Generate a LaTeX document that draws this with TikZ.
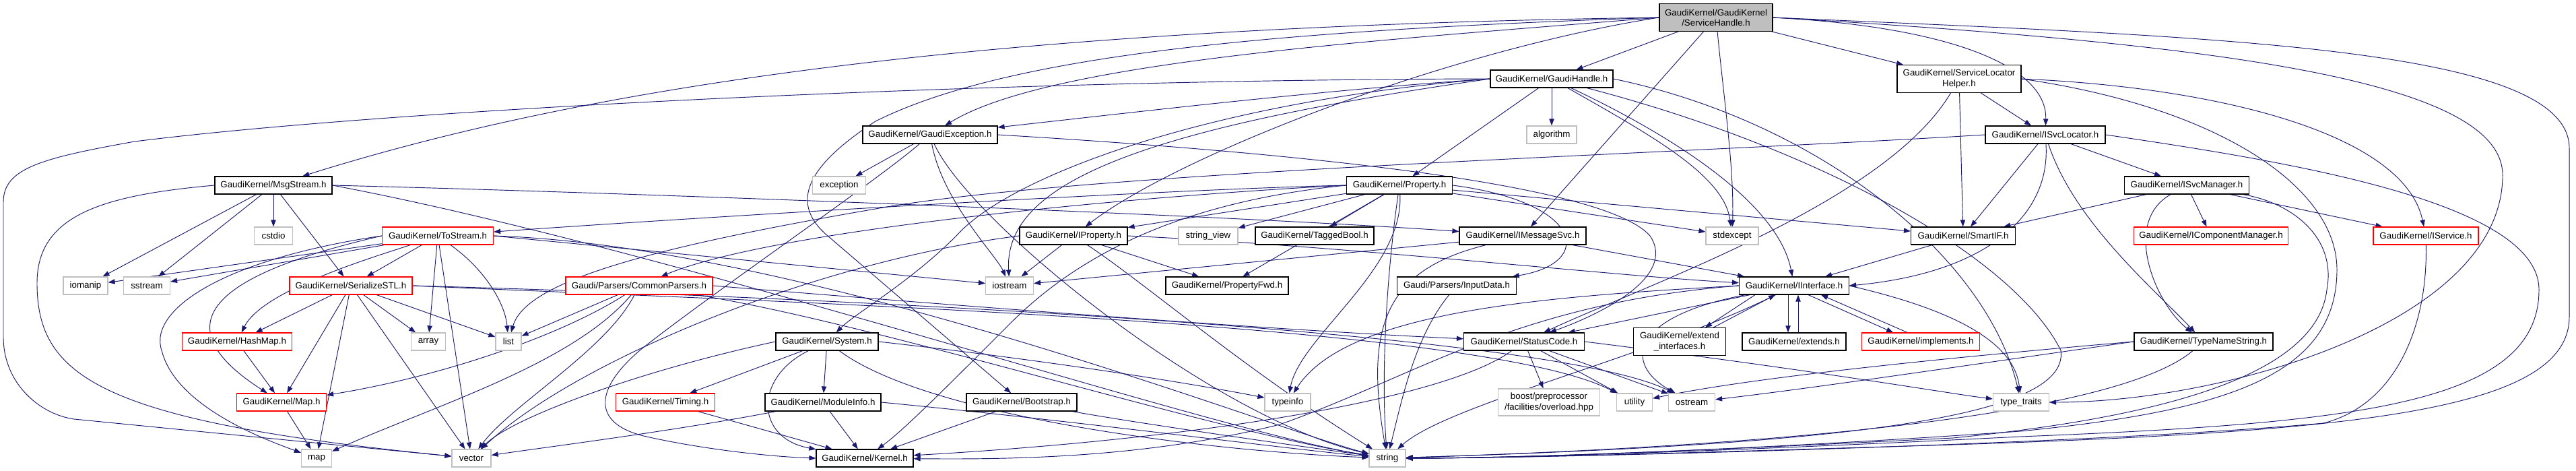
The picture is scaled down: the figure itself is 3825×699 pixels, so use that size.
\documentclass[tikz,border=0pt]{standalone}
\usepackage{fontspec}
\setmainfont{Liberation Sans}
\usetikzlibrary{arrows.meta,calc}
\definecolor{edgc}{RGB}{25,25,112}
\definecolor{gryc}{RGB}{191,191,191}
\newcommand\dxf{\fontsize{10}{11.5}\selectfont}
\pgfdeclarelayer{bglayer}
\pgfsetlayers{bglayer,main}
\begin{document}
\begin{tikzpicture}[x=0.75pt,y=-0.75pt,
  nb/.style={rectangle,inner sep=0pt,minimum height=19.5pt,font=\dxf,align=center,fill=white},
  bk/.style={nb,draw=black,line width=0.9pt},
  gy/.style={nb,draw=gryc,line width=0.9pt},
  rd/.style={nb,draw=red,line width=0.9pt},
  wd/.style={minimum width=#1*0.75pt},
  tall/.style={minimum height=30.5pt},
  edg/.style={draw=edgc,line width=0.7pt,-{Triangle[length=7.5pt,width=5.5pt]}}]
\useasboundingbox (0,0) rectangle (3825,699);

% ---- nodes ----
\node[bk,wd=168,tall,fill=gryc] (SH) at (2548,26) {GaudiKernel/GaudiKernel\\/ServiceHandle.h};
\node[bk,wd=182] (GH) at (2304,117) {GaudiKernel/GaudiHandle.h};
\node[bk,wd=184,tall] (SLH) at (2909,117) {GaudiKernel/ServiceLocator\\Helper.h};
\node[bk,wd=200] (GE) at (1381,200) {GaudiKernel/GaudiException.h};
\node[gy,wd=74] (ALG) at (2304,200) {algorithm};
\node[bk,wd=178] (ISL) at (3037,200) {GaudiKernel/ISvcLocator.h};
\node[bk,wd=174] (MS) at (406,275) {GaudiKernel/MsgStream.h};
\node[gy,wd=79] (EXC) at (1246,275) {exception};
\node[bk,wd=157] (PROP) at (2078,275) {GaudiKernel/Property.h};
\node[bk,wd=185] (ISM) at (3247,275) {GaudiKernel/ISvcManager.h};
\node[gy,wd=57] (CSTDIO) at (406,350) {cstdio};
\node[rd,wd=165] (TOS) at (650,350) {GaudiKernel/ToStream.h};
\node[bk,wd=160] (IPROP) at (1594,350) {GaudiKernel/IProperty.h};
\node[gy,wd=88] (SV) at (1794,350) {string\_view};
\node[bk,wd=176] (TB) at (1952,350) {GaudiKernel/TaggedBool.h};
\node[bk,wd=188] (IMS) at (2261,350) {GaudiKernel/IMessageSvc.h};
\node[gy,wd=78] (STDEXC) at (2572,350) {stdexcept};
\node[bk,wd=155] (SMART) at (2915,350) {GaudiKernel/SmartIF.h};
\node[rd,wd=229] (ICM) at (3283,350) {GaudiKernel/IComponentManager.h};
\node[rd,wd=156] (ISVC) at (3602,350) {GaudiKernel/IService.h};
\node[gy,wd=66] (IOMANIP) at (127,424) {iomanip};
\node[gy,wd=69] (SSTREAM) at (218,424) {sstream};
\node[rd,wd=182] (SER) at (521,424) {GaudiKernel/SerializeSTL.h};
\node[rd,wd=218] (CP) at (949,424) {Gaudi/Parsers/CommonParsers.h};
\node[gy,wd=71] (IOSTREAM) at (1499,424) {iostream};
\node[bk,wd=182] (PFWD) at (1822,424) {GaudiKernel/PropertyFwd.h};
\node[bk,wd=177] (INPUT) at (2163,424) {Gaudi/Parsers/InputData.h};
\node[bk,wd=163] (II) at (2664,424) {GaudiKernel/IInterface.h};
\node[rd,wd=163] (HASH) at (352,507) {GaudiKernel/HashMap.h};
\node[gy,wd=51] (ARRAY) at (636,507) {array};
\node[gy,wd=38] (LIST) at (755,507) {list};
\node[bk,wd=152] (SYS) at (1228,507) {GaudiKernel/System.h};
\node[bk,wd=179] (SC) at (2263,507) {GaudiKernel/StatusCode.h};
\node[bk,wd=137,tall] (EXTI) at (2494,507) {GaudiKernel/extend\\\_interfaces.h};
\node[bk,wd=154] (EXTS) at (2664,507) {GaudiKernel/extends.h};
\node[rd,wd=175] (IMPL) at (2852,507) {GaudiKernel/implements.h};
\node[bk,wd=206] (TNS) at (3272,507) {GaudiKernel/TypeNameString.h};
\node[rd,wd=133] (MAP) at (418,597) {GaudiKernel/Map.h};
\node[rd,wd=147] (TIM) at (988,597) {GaudiKernel/Timing.h};
\node[bk,wd=172] (MI) at (1222,597) {GaudiKernel/ModuleInfo.h};
\node[bk,wd=164] (BOOT) at (1517,597) {GaudiKernel/Bootstrap.h};
\node[gy,wd=68] (TYPEINFO) at (1912,597) {typeinfo};
\node[gy,wd=151,minimum height=30pt] (BOOST) at (2300,597) {boost/preprocessor\\/facilities/overload.hpp};
\node[gy,wd=53] (UTIL) at (2427,597) {utility};
\node[gy,wd=69] (OSTREAM) at (2512,597) {ostream};
\node[gy,wd=83] (TT) at (3001,597) {type\_traits};
\node[gy,wd=45] (MAPS) at (470,680) {map};
\node[gy,wd=58] (VEC) at (700,680) {vector};
\node[bk,wd=144] (KER) at (1284,680) {GaudiKernel/Kernel.h};
\node[gy,wd=54] (STR) at (2060,680) {string};

% ---- edges ----
\begin{pgfonlayer}{bglayer}
\fill[white] (0,0) rectangle (3825,699);
% ServiceHandle
\draw[edg] (SH) -- (GH);
\draw[edg] (SH.west) .. controls (2050,60) and (1560,90) .. (GE);
\draw[edg] (SH.west) .. controls (1500,40) and (900,120) .. (MS);
\draw[edg] (SH.west) .. controls (1900,45) and (1500,80) .. (1300,180) .. controls (1200,245) and (1170,300) .. (1229,350) -- (BOOT);
\draw[edg] (SH.west) .. controls (2150,75) and (1750,230) .. (IPROP);
\draw[edg] (SH) -- (IMS);
\draw[edg] (SH) .. controls (2560,150) and (2575,250) .. (STDEXC);
\draw[edg] (SH) -- (SLH);
\draw[edg] (SH.east) .. controls (2900,40) and (3040,100) .. (ISL);
\draw[edg] (SH.east) .. controls (3300,55) and (3815,70) .. (3815,220) -- (3815,470) .. controls (3815,610) and (3500,640) .. (2900,660) .. controls (2500,672) and (2250,680) .. (STR);
\draw[edg] (SH.east) .. controls (3300,65) and (3716,120) .. (3716,260) .. controls (3716,480) and (3300,597) .. (TT);
% GaudiHandle
\draw[edg] (GH) -- (PROP);
\draw[edg] (GH) -- (ALG);
\draw[edg] (GH.west) .. controls (1950,135) and (1700,165) .. (GE);
\draw[edg] (GH.west) .. controls (1500,118) and (600,160) .. (200,210) .. controls (60,235) and (5,250) .. (5,300) -- (5,500) .. controls (5,570) and (60,615) .. (110,622) -- (VEC);
\draw[edg] (GH.west) .. controls (1800,150) and (1500,260) .. (1420,350) .. controls (1350,420) and (1270,465) .. (SYS);
\draw[edg] (GH.west) .. controls (1700,190) and (1490,270) .. (IOSTREAM);
\draw[edg] (GH) .. controls (2450,200) and (2560,260) .. (STDEXC);
\draw[edg] (GH) .. controls (2480,200) and (2640,300) .. (II);
\draw[edg] (GH.east) .. controls (2700,180) and (2950,380) .. (TT);
\draw[edg] (GH) .. controls (2700,220) and (2990,380) .. (3060,520) .. controls (3075,625) and (2700,660) .. (STR);
% ServiceLocatorHelper
\draw[edg] (SLH) -- (ISL);
\draw[edg] (SLH) -- (SMART);
\draw[edg] (SLH) .. controls (2800,300) and (2450,420) .. (SC);
\draw[edg] (SLH.east) .. controls (3300,130) and (3570,200) .. (ISVC);
\draw[edg] (SLH.east) .. controls (3300,160) and (3470,280) .. (3470,400) .. controls (3470,560) and (3300,610) .. (3000,640) .. controls (2600,668) and (2250,680) .. (STR);
% ISvcLocator
\draw[edg] (ISL) -- (SMART);
\draw[edg] (ISL) -- (ISM);
\draw[edg] (ISL) .. controls (3045,320) and (2950,405) .. (II.east);
\draw[edg] (ISL) .. controls (3080,330) and (3200,430) .. (TNS);
\draw[edg] (ISL.east) .. controls (3400,240) and (3770,300) .. (3770,430) .. controls (3770,600) and (3500,628) .. (3000,648) .. controls (2600,668) and (2250,680) .. (STR);
\draw[edg] (ISL.west) .. controls (2500,228) and (1600,255) .. (1300,310) .. controls (950,370) and (780,420) .. (LIST);
% ISvcManager
\draw[edg] (ISM) -- (SMART);
\draw[edg] (ISM) -- (ICM);
\draw[edg] (ISM) -- (ISVC);
\draw[edg] (ISM) .. controls (3150,330) and (3200,450) .. (TNS);
\draw[edg] (ISM) .. controls (3400,300) and (3470,350) .. (3455,430) .. controls (3440,560) and (3200,620) .. (2900,650) .. controls (2500,670) and (2250,680) .. (STR);
\draw[edg] (ISVC) .. controls (3605,480) and (3560,600) .. (3450,628) .. controls (3100,660) and (2300,680) .. (STR);
% TypeNameString
\draw[edg] (TNS.west) .. controls (2900,530) and (2600,560) .. (UTIL);
\draw[edg] (TNS.west) .. controls (2900,545) and (2700,575) .. (OSTREAM);
\draw[edg] (TNS) .. controls (3150,610) and (2700,660) .. (STR);
% SmartIF
\draw[edg] (SMART) -- (II);
% IInterface
\draw[edg] ($(II.south)+(-58,0)$) -- ($(EXTI.north)+(38,0)$);
\draw[edg] ($(EXTI.north)+(50,0)$) -- ($(II.south)+(-28,0)$);
\draw[edg] ($(II.south)+(-9,0)$) -- ($(EXTS.north)+(-9,0)$);
\draw[edg] ($(EXTS.north)+(6,0)$) -- ($(II.south)+(6,0)$);
\draw[edg] ($(II.south)+(21,0)$) -- ($(IMPL.north)+(-41,0)$);
\draw[edg] ($(IMPL.north)+(-20,0)$) -- ($(II.south)+(40,0)$);
\draw[edg] (II) -- (SC);
\draw[edg] (II.west) .. controls (2300,440) and (2000,460) .. (TYPEINFO);
\draw[edg] (II.west) .. controls (2250,450) and (2100,560) .. (1900,630) .. controls (1700,680) and (1500,682) .. (KER);
\draw[edg] (II) .. controls (2450,530) and (2150,600) .. (STR);
\draw[edg] (II) .. controls (2420,470) and (2410,540) .. (OSTREAM);
\draw[edg] (II.east) .. controls (2880,455) and (2990,500) .. (TT);
% StatusCode
\draw[edg] (SC) -- (BOOST);
\draw[edg] (SC) -- (UTIL);
\draw[edg] (SC) -- (OSTREAM);
\draw[edg] (SC) .. controls (2150,590) and (1800,650) .. (KER);
\draw[edg] (SC.east) .. controls (2700,550) and (2900,585) .. (TT);
% IMessageSvc
\draw[edg] (IMS) -- (II);
\draw[edg] (IMS) -- (IOSTREAM);
\draw[edg] (IMS) .. controls (2060,400) and (2025,480) .. (STR);
% MsgStream
\draw[edg] (MS) -- (IOMANIP);
\draw[edg] (MS) -- (SSTREAM);
\draw[edg] (MS) -- (CSTDIO);
\draw[edg] (MS) -- (SER);
\draw[edg] (MS.east) .. controls (900,285) and (1800,318) .. (IMS);
\draw[edg] (MS.east) .. controls (1000,370) and (1800,640) .. (STR);
\draw[edg] (MS.west) .. controls (150,290) and (55,320) .. (55,420) .. controls (55,560) and (150,625) .. (VEC);
% ToStream
\draw[edg] (TOS) -- (IOMANIP);
\draw[edg] (TOS) -- (SSTREAM);
\draw[edg] (TOS) -- (SER);
\draw[edg] (TOS) .. controls (560,380) and (390,430) .. (HASH);
\draw[edg] (TOS.west) .. controls (350,400) and (220,470) .. (MAP);
\draw[edg] (TOS.west) .. controls (330,385) and (220,460) .. (240,520) .. controls (255,580) and (330,630) .. (MAPS);
\draw[edg] (TOS) -- (ARRAY);
\draw[edg] (TOS) .. controls (720,400) and (750,450) .. (LIST);
\draw[edg] (TOS) -- (VEC);
\draw[edg] (TOS.east) -- (IOSTREAM);
\draw[edg] (TOS.east) .. controls (1200,365) and (1900,640) .. (STR);
% SerializeSTL
\draw[edg] (SER) -- (HASH);
\draw[edg] (SER) -- (MAP);
\draw[edg] (SER) -- (MAPS);
\draw[edg] (SER) -- (VEC);
\draw[edg] (SER) -- (ARRAY);
\draw[edg] (SER) -- (LIST);
\draw[edg] (SER.east) .. controls (1200,450) and (2200,480) .. (UTIL);
\draw[edg] (SER.east) .. controls (1200,440) and (2300,490) .. (OSTREAM);
\draw[edg] (HASH) -- (MAP);
\draw[edg] (MAP) -- (MAPS);
% CommonParsers
\draw[edg] (CP) -- (LIST);
\draw[edg] (CP) .. controls (830,500) and (650,560) .. (MAP);
\draw[edg] (CP) .. controls (850,540) and (650,600) .. (MAPS);
\draw[edg] (CP) .. controls (900,520) and (760,600) .. (VEC);
\draw[edg] (CP.east) .. controls (1500,460) and (1900,490) .. (SC);
\draw[edg] (CP) .. controls (1300,480) and (1800,640) .. (STR);
% System
\draw[edg] (SYS) -- (TIM);
\draw[edg] (SYS) -- (MI);
\draw[edg] (SYS) .. controls (1120,560) and (1120,650) .. (KER);
\draw[edg] (SYS.west) .. controls (950,550) and (760,620) .. (VEC);
\draw[edg] (SYS.east) .. controls (1600,540) and (1800,575) .. (TYPEINFO);
\draw[edg] (SYS) .. controls (1380,620) and (1800,670) .. (STR);
\draw[edg] (TIM) -- (KER);
\draw[edg] (MI) -- (KER);
\draw[edg] (BOOT) -- (KER);
\draw[edg] (MI) .. controls (1000,640) and (800,665) .. (VEC);
\draw[edg] (MI.east) .. controls (1600,625) and (1900,665) .. (STR);
\draw[edg] (BOOT) .. controls (1700,630) and (1950,665) .. (STR);
% IProperty
\draw[edg] (IPROP) -- (IOSTREAM);
\draw[edg] (IPROP) -- (PFWD);
\draw[edg] (IPROP.east) .. controls (2000,365) and (2400,410) .. (II);
\draw[edg] (IPROP) .. controls (1700,420) and (1850,550) .. (STR);
\draw[edg] (IPROP.west) .. controls (1200,390) and (850,540) .. (VEC);
% Property
\draw[edg] (PROP.west) .. controls (1700,282) and (1000,325) .. (TOS);
\draw[edg] (PROP.west) .. controls (1700,290) and (1150,340) .. (CP);
\draw[edg] (PROP) -- (IPROP);
\draw[edg] (PROP) -- (SV);
\draw[edg] (PROP) -- (TB);
\draw[edg] (PROP) -- (SMART);
\draw[edg] (PROP) -- (STDEXC);
\draw[edg] (PROP.east) .. controls (2350,300) and (2370,390) .. (INPUT);
\draw[edg] (PROP) -- (PFWD);
\draw[edg] (PROP.west) .. controls (1750,300) and (1600,380) .. (1500,480) .. controls (1400,580) and (1340,640) .. (KER);
\draw[edg] (PROP) .. controls (2060,400) and (2050,550) .. (STR);
\draw[edg] (PROP) .. controls (2085,400) and (1930,500) .. (TYPEINFO);
\draw[edg] (INPUT) .. controls (2100,500) and (2080,600) .. (STR);
% GaudiException
\draw[edg] (GE) -- (EXC);
\draw[edg] (GE) .. controls (1400,300) and (1480,380) .. (IOSTREAM);
\draw[edg] (GE) .. controls (1440,330) and (1800,620) .. (STR);
\draw[edg] (GE.east) .. controls (1900,225) and (2380,270) .. (2450,350) .. controls (2490,410) and (2380,465) .. (SC);
\draw[edg] (GE) .. controls (1300,270) and (1050,440) .. (950,520) .. controls (880,580) and (880,630) .. (960,648) .. controls (1050,668) and (1150,678) .. (KER.west);
\end{pgfonlayer}
\end{tikzpicture}
\end{document}
